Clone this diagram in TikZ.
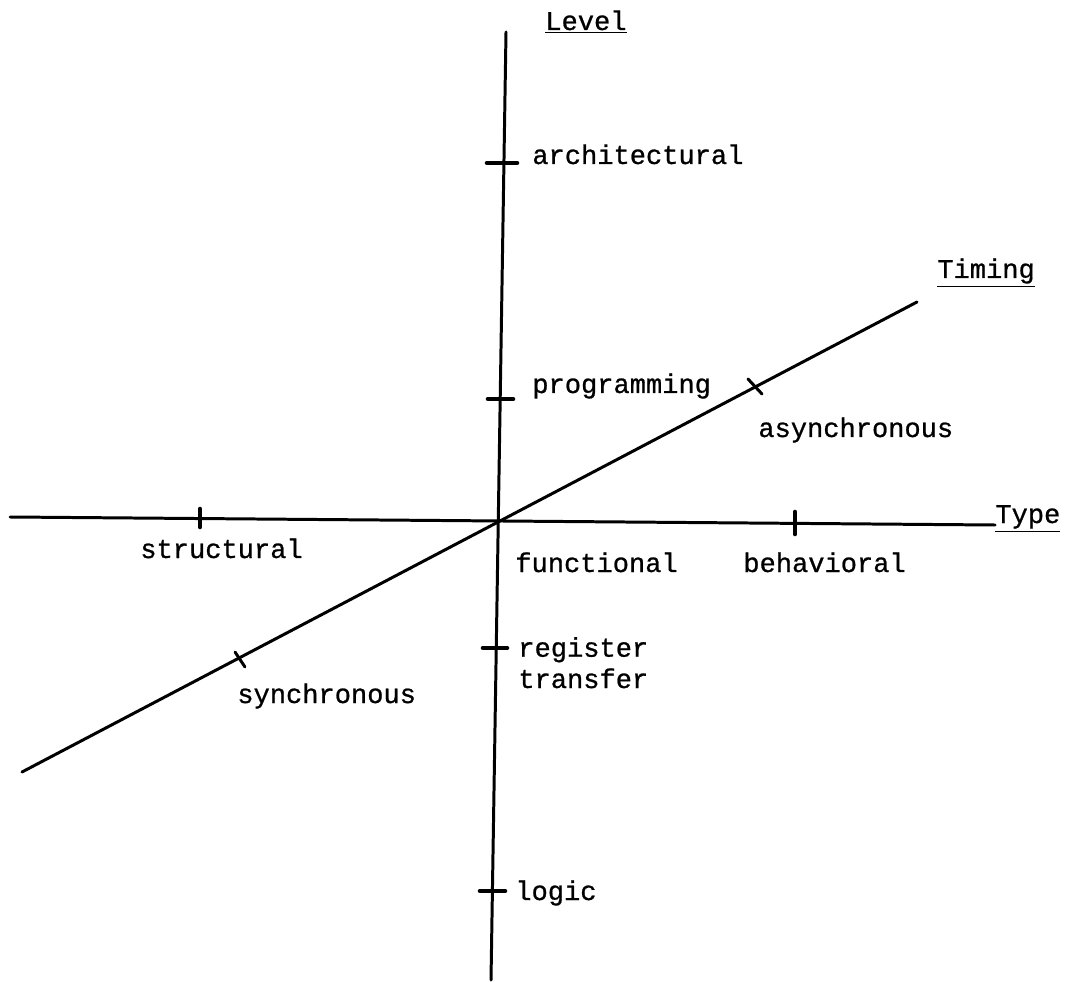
\documentclass[tikz,border=0pt]{standalone}
\usepackage{fontspec}
\setmonofont[FakeBold=0.8]{Liberation Mono}
\usepackage{tikz}
\usetikzlibrary{positioning}

\begin{document}
\begin{tikzpicture}[x=0.02cm, y=-0.02cm,
  axis/.style={line width=1.7pt, line cap=round},
  tickmark/.style={line width=2.6pt, line cap=round},
  lbl/.style={anchor=base west, inner sep=0pt, align=left,
    font=\fontsize{15.4}{17.8}\selectfont\ttfamily}]
\useasboundingbox (0,0) rectangle (1070,982);

\coordinate (lvl_top) at (506,32);
\coordinate (lvl_bot) at (491,980);
\coordinate (typ_l) at (10,517);
\coordinate (typ_r) at (995,525);
\coordinate (tim_l) at (22,772);
\coordinate (tim_r) at (917,302);

\draw [axis] (lvl_top) -- (lvl_bot);
\draw [axis] (typ_l) -- (typ_r);
\draw [axis] (tim_l) -- (tim_r);

% axis names
\node [lbl] (level) at (545,30) {\underline{Level}};
\node [lbl] (timing) at (937,278) {\underline{Timing}};
\node [lbl] (type) at (995,523) {\underline{Type}};

% ticks
\coordinate (t_arch) at (502,163);
\coordinate (t_prog) at (500,399);
\coordinate (t_reg) at (495,648);
\coordinate (t_logic) at (492,891);
\coordinate (t_struct) at (200,518);
\coordinate (t_behav) at (795,523);
\coordinate (t_async) at (755,386);
\coordinate (t_sync) at (240,659);

\draw [tickmark] (t_arch) ++(-15,0) -- ++(30,0);
\draw [tickmark] (t_prog) ++(-12,0) -- ++(25,0);
\draw [tickmark] (t_reg) ++(-12,0) -- ++(24,0);
\draw [tickmark] (t_logic) ++(-12,0) -- ++(25,0);
\draw [tickmark] (t_struct) ++(0,-9) -- ++(0,18);
\draw [tickmark] (t_behav) ++(0,-11) -- ++(0,22);
\draw [axis] (t_async) ++(-7,-7) -- ++(14,15);
\draw [axis] (t_sync) ++(-5,-7) -- ++(10,15);

% labels
\node [lbl] (arch) at (532,164) {architectural};
\node [lbl] (prog) at (532,393) {programming};
\node [lbl] (reg) at (518,688) {register\\transfer};
\node [lbl] (logic) at (515,900) {logic};
\node [lbl] (struct) at (140,558) {structural};
\node [lbl] (func) at (515,572) {functional};
\node [lbl] (behav) at (743,572) {behavioral};
\node [lbl] (async) at (758,437) {asynchronous};
\node [lbl] (sync) at (237,703) {synchronous};
\end{tikzpicture}
\end{document}
